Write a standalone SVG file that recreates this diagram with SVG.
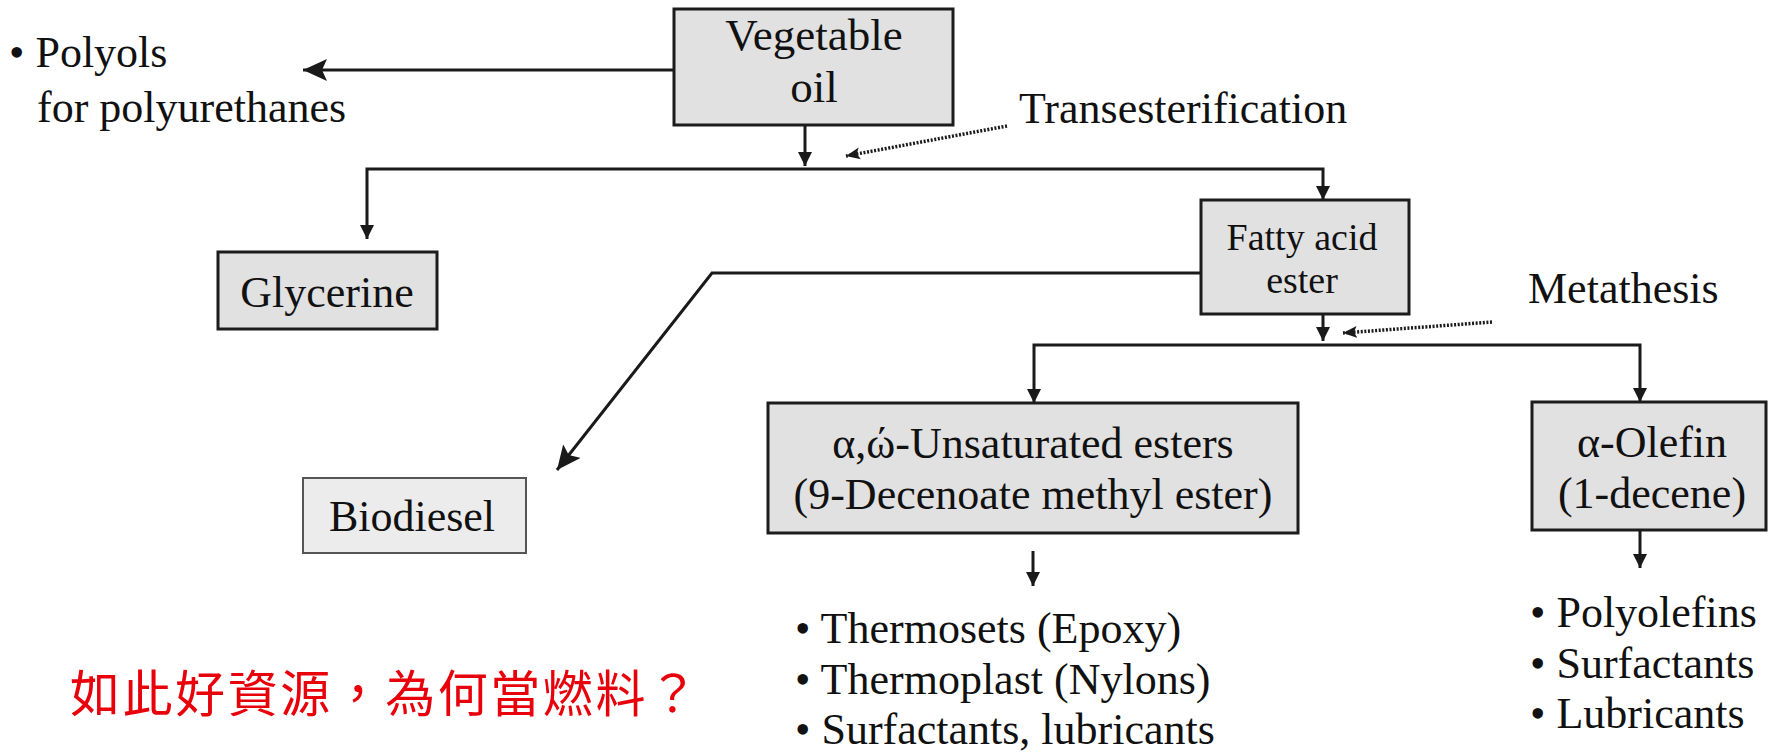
<svg xmlns="http://www.w3.org/2000/svg" width="1769" height="754" viewBox="0 0 1769 754">
  <defs>
    <style>
      .box { fill: #e1e1e1; stroke: #1c1c1c; stroke-width: 3; }
      .box-light { fill: #ececec; stroke: #555; stroke-width: 2; }
      .lbl { font-family: "Liberation Serif", "Times New Roman", serif; fill: #111; font-size: 44px; }
      .lbl.big { font-size: 45px; }
      .lbl.small { font-size: 38px; }
      .mid { text-anchor: middle; }
      .wire { fill: none; stroke: #1a1a1a; stroke-width: 3; }
      .dot { fill: none; stroke: #1a1a1a; stroke-width: 3.5; stroke-dasharray: 2 1.6; }
      .note { font-family: "Noto Sans CJK TC", "Noto Sans CJK SC", sans-serif; fill: #e8000b; font-size: 50px; }
    </style>
    <marker id="head" markerUnits="userSpaceOnUse" markerWidth="14" markerHeight="14" refX="14" refY="7" orient="auto">
      <path d="M0,0 L14,7 L0,14 Z" fill="#1a1a1a"/>
    </marker>
    <marker id="head-lg" markerUnits="userSpaceOnUse" markerWidth="24" markerHeight="22" refX="24" refY="11" orient="auto">
      <path d="M0,0 L24,11 L0,22 L5,11 Z" fill="#1a1a1a"/>
    </marker>
    <marker id="head-dot" markerUnits="userSpaceOnUse" markerWidth="14" markerHeight="14" refX="14" refY="7" orient="auto">
      <path d="M0,1 L14,7 L0,13 L3,7 Z" fill="#1a1a1a"/>
    </marker>
  </defs>

  <rect width="1769" height="754" fill="#ffffff"/>

  <!-- connectors -->
  <g id="connectors">
    <path class="wire" d="M674,70 H303" marker-end="url(#head-lg)"/>
    <path class="wire" d="M805,125 V166" marker-end="url(#head)"/>
    <path class="dot" d="M1007,126 L846,156" marker-end="url(#head-dot)"/>
    <path class="wire" d="M805,169 H367 V239" marker-end="url(#head)"/>
    <path class="wire" d="M805,169 H1323 V200" marker-end="url(#head)"/>
    <path class="wire" d="M1201,273 H712 L557,470" marker-end="url(#head-lg)"/>
    <path class="wire" d="M1323,314 V341" marker-end="url(#head)"/>
    <path class="dot" d="M1492,322 L1343,333" marker-end="url(#head-dot)"/>
    <path class="wire" d="M1323,345 H1034 V403" marker-end="url(#head)"/>
    <path class="wire" d="M1323,345 H1640 V402" marker-end="url(#head)"/>
    <path class="wire" d="M1033,551 V586" marker-end="url(#head)"/>
    <path class="wire" d="M1640,530 V568" marker-end="url(#head)"/>
  </g>

  <g id="vegetable-oil">
    <rect class="box" x="674" y="9" width="279" height="116"/>
    <text class="lbl big mid" x="814" y="50">Vegetable</text>
    <text class="lbl big mid" x="814" y="102">oil</text>
  </g>

  <g id="polyols">
    <text class="lbl" x="9" y="67">• Polyols</text>
    <text class="lbl" x="37" y="122">for polyurethanes</text>
  </g>

  <g id="transesterification">
    <text class="lbl" x="1019" y="123">Transesterification</text>
  </g>

  <g id="glycerine">
    <rect class="box" x="218" y="252" width="219" height="77"/>
    <text class="lbl mid" x="327" y="307">Glycerine</text>
  </g>

  <g id="fatty-acid-ester">
    <rect class="box" x="1201" y="200" width="208" height="114"/>
    <text class="lbl small mid" x="1302" y="250">Fatty acid</text>
    <text class="lbl small mid" x="1302" y="293">ester</text>
  </g>

  <g id="metathesis">
    <text class="lbl" x="1528" y="303">Metathesis</text>
  </g>

  <g id="biodiesel">
    <rect class="box-light" x="303" y="478" width="223" height="75"/>
    <text class="lbl mid" x="412" y="531">Biodiesel</text>
  </g>

  <g id="unsaturated-esters">
    <rect class="box" x="768" y="403" width="530" height="130"/>
    <text class="lbl mid" x="1033" y="458">α,ώ-Unsaturated esters</text>
    <text class="lbl mid" x="1033" y="509">(9-Decenoate methyl ester)</text>
  </g>

  <g id="alpha-olefin">
    <rect class="box" x="1532" y="402" width="234" height="128"/>
    <text class="lbl mid" x="1652" y="457">α-Olefin</text>
    <text class="lbl mid" x="1652" y="508">(1-decene)</text>
  </g>

  <g id="ester-uses">
    <text class="lbl" x="795" y="643">• Thermosets (Epoxy)</text>
    <text class="lbl" x="795" y="694">• Thermoplast (Nylons)</text>
    <text class="lbl" x="795" y="744">• Surfactants, lubricants</text>
  </g>

  <g id="olefin-uses">
    <text class="lbl" x="1530" y="627">• Polyolefins</text>
    <text class="lbl" x="1530" y="678">• Surfactants</text>
    <text class="lbl" x="1530" y="728">• Lubricants</text>
  </g>

  <g id="question">
    <text class="note" x="70" y="712" textLength="628" lengthAdjust="spacing">如此好資源，為何當燃料？</text>
  </g>
</svg>
